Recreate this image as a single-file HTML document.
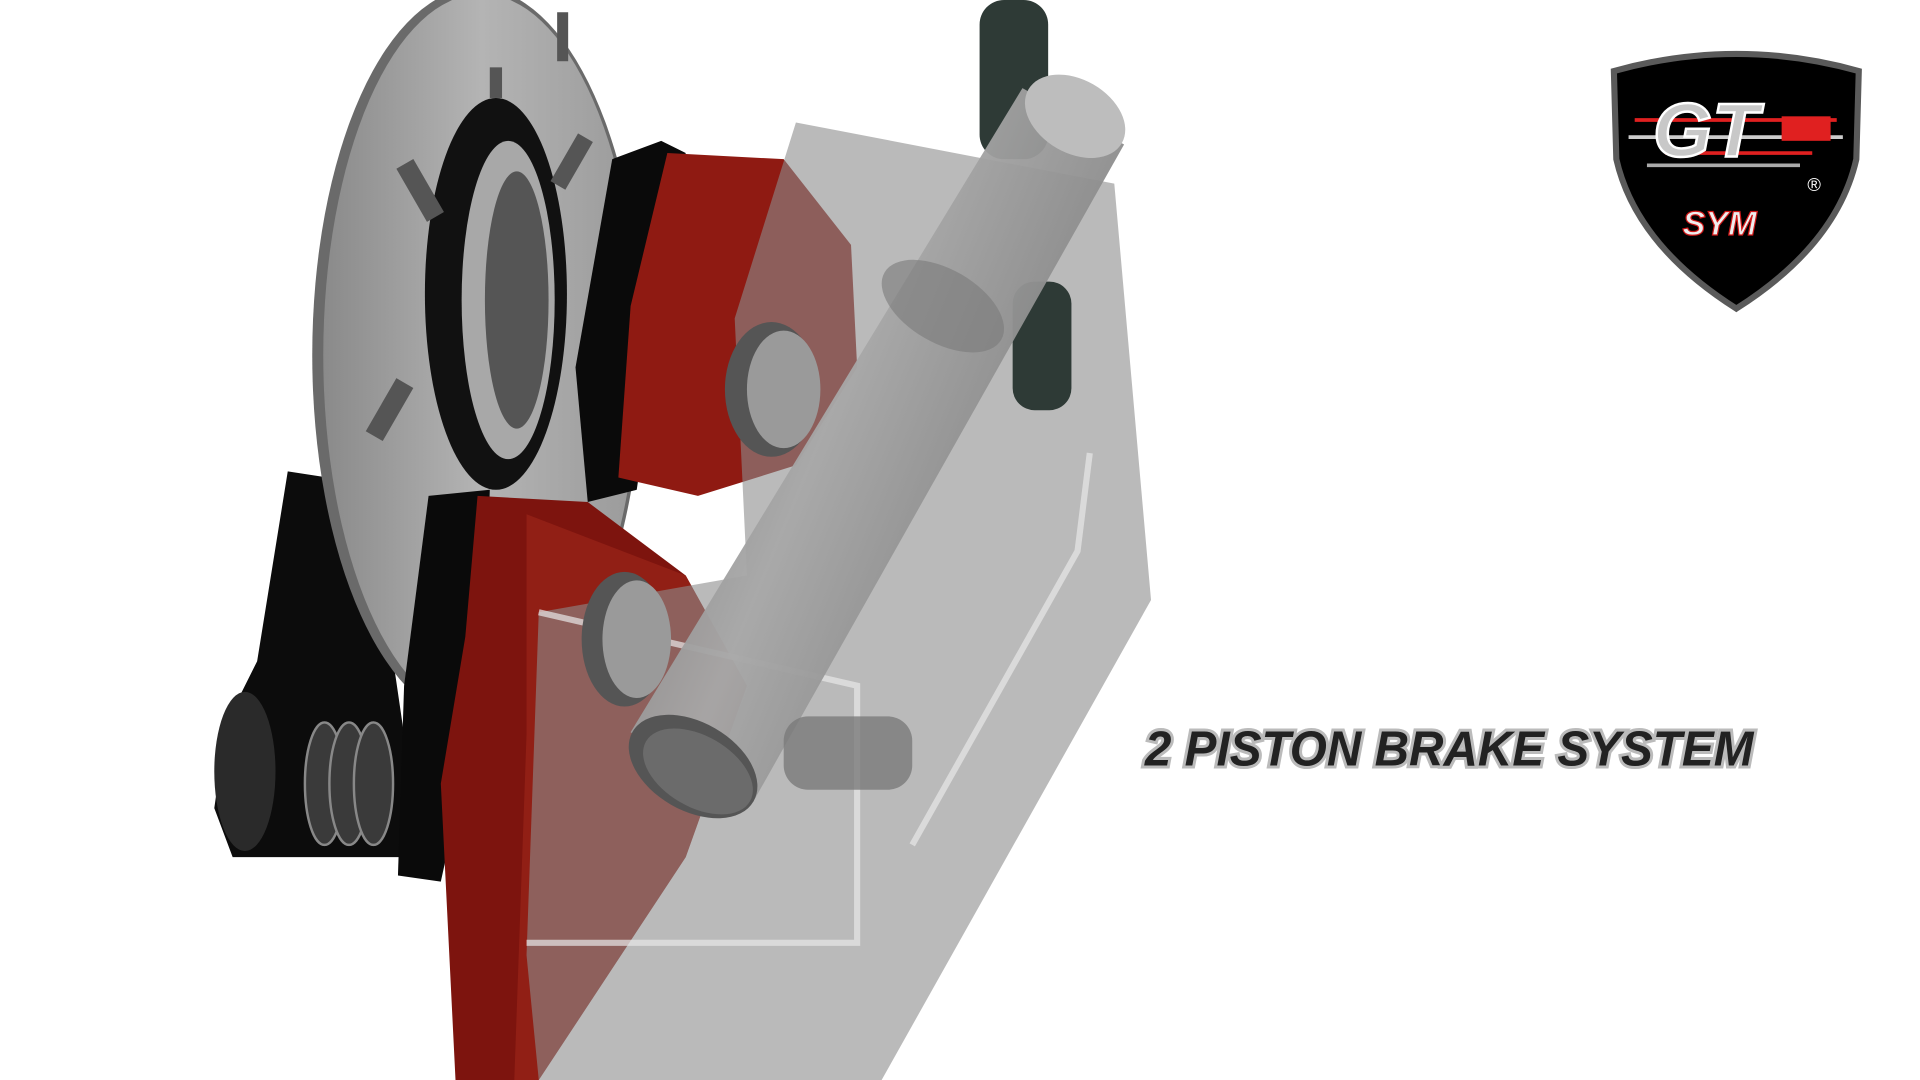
<!DOCTYPE html>
<html><head><meta charset="utf-8"><style>
html,body{margin:0;padding:0;background:#fff;width:1920px;height:1080px;overflow:hidden}
svg{display:block}
</style></head><body>
<svg width="1920" height="1080" viewBox="0 0 1568 882" xmlns="http://www.w3.org/2000/svg">
<defs>
<linearGradient id="disc" x1="0" x2="1"><stop offset="0" stop-color="#8a8a8a"/><stop offset=".5" stop-color="#b4b4b4"/><stop offset="1" stop-color="#9a9a9a"/></linearGradient>
<linearGradient id="rod" x1="0" x2="1" y1="0" y2="0.6"><stop offset="0" stop-color="#6e6e6e"/><stop offset=".5" stop-color="#a8a8a8"/><stop offset="1" stop-color="#777"/></linearGradient>
</defs>
<path d="M235,385 L300,395 L330,600 L330,700 L190,700 L175,660 L185,590 L210,540 Z" fill="#0c0c0c"/>
<ellipse cx="200" cy="630" rx="25" ry="65" fill="#2a2a2a"/>
<ellipse cx="390" cy="290" rx="135" ry="300" fill="#6a6a6a"/>
<ellipse cx="393" cy="290" rx="129" ry="295" fill="url(#disc)"/>
<ellipse cx="405" cy="240" rx="58" ry="160" fill="#111"/>
<ellipse cx="415" cy="245" rx="38" ry="130" fill="#a8a8a8"/>
<ellipse cx="422" cy="245" rx="26" ry="105" fill="#555"/>
<g fill="#555"><rect x="335" y="130" width="16" height="50" transform="rotate(-30 344 155)"/><rect x="460" y="110" width="14" height="45" transform="rotate(30 468 132)"/><rect x="310" y="310" width="16" height="50" transform="rotate(30 319 335)"/><rect x="400" y="55" width="10" height="25"/><rect x="455" y="10" width="9" height="40"/></g>
<g fill="#3a3a3a" stroke="#888" stroke-width="2"><ellipse cx="265" cy="640" rx="16" ry="50"/><ellipse cx="285" cy="640" rx="16" ry="50"/><ellipse cx="305" cy="640" rx="16" ry="50"/></g>
<path d="M500,130 L540,115 L560,125 L520,400 L480,410 L470,300 Z" fill="#0a0a0a"/>
<path d="M545,125 L640,130 L695,200 L700,300 L650,380 L570,405 L505,390 L515,250 Z" fill="#8f1a12"/>
<path d="M350,405 L400,400 L395,560 L360,720 L325,715 L330,560 Z" fill="#0a0a0a"/>
<path d="M390,405 L480,410 L560,470 L610,560 L560,700 L440,882 L372,882 L360,640 L380,520 Z" fill="#7d140e"/>
<path d="M430,420 L560,470 L610,560 L560,700 L440,882 L420,882 L430,600 Z" fill="#9a2418" opacity=".7"/>
<path d="M650,100 L910,150 L940,490 L720,882 L440,882 L430,780 L440,500 L610,470 L600,260 Z" fill="#8c8c8c" opacity=".6"/>
<path d="M440,500 L700,560 L700,770 L430,770" fill="none" stroke="#e8e8e8" stroke-width="5" opacity=".7"/>
<path d="M890,370 L880,450 L745,690" fill="none" stroke="#e8e8e8" stroke-width="5" opacity=".7"/>
<ellipse cx="630" cy="318" rx="38" ry="55" fill="#555"/><ellipse cx="640" cy="318" rx="30" ry="48" fill="#9a9a9a"/>
<ellipse cx="510" cy="522" rx="35" ry="55" fill="#555"/><ellipse cx="520" cy="522" rx="28" ry="48" fill="#9a9a9a"/>
<rect x="800" y="0" width="56" height="130" rx="20" fill="#2e3a36"/>
<rect x="827" y="230" width="48" height="105" rx="18" fill="#2e3a36"/>
<path d="M835,72 L918,118 L615,655 L515,598 Z" fill="url(#rod)" opacity=".95"/>
<ellipse cx="878" cy="95" rx="44" ry="30" fill="#bdbdbd" transform="rotate(30 878 95)"/>
<ellipse cx="566" cy="626" rx="57" ry="36" fill="#555" transform="rotate(30 566 626)"/>
<ellipse cx="570" cy="630" rx="49" ry="29" fill="#6b6b6b" transform="rotate(30 570 630)"/>
<rect x="640" y="585" width="105" height="60" rx="20" fill="#7a7a7a" opacity=".8"/>
<ellipse cx="770" cy="250" rx="55" ry="30" fill="#7a7a7a" opacity=".6" transform="rotate(30 770 250)"/>
<text x="935" y="625" textLength="497" lengthAdjust="spacingAndGlyphs" font-family="Liberation Sans, sans-serif" font-size="40" font-weight="700" font-style="italic" fill="#222" stroke="#bbb" stroke-width="5" paint-order="stroke">2 PISTON BRAKE SYSTEM</text>
<path d="M1318,58 Q1418,30 1518,58 L1516,130 Q1500,200 1418,252 Q1336,200 1320,130 Z" fill="#000" stroke="#5a5a5a" stroke-width="5"/>
<g stroke-width="3" fill="none">
<path d="M1330,112 L1505,112" stroke="#ccc"/><path d="M1335,98 L1500,98" stroke="#e02020"/><path d="M1360,125 L1480,125" stroke="#e02020"/><path d="M1345,135 L1470,135" stroke="#aaa"/>
</g>
<text x="1350" y="128" font-family="Liberation Sans, sans-serif" font-size="62" font-weight="700" font-style="italic" fill="#c8c8c8" stroke="#fff" stroke-width="2">GT</text>
<rect x="1455" y="95" width="40" height="20" fill="#e02020"/>
<text x="1476" y="156" font-family="Liberation Sans, sans-serif" font-size="15" fill="#fff">®</text>
<text x="1374" y="192" font-family="Liberation Sans, sans-serif" font-size="28" font-weight="700" font-style="italic" fill="#eee" stroke="#d01818" stroke-width="1">SYM</text>
</svg>
</body></html>
